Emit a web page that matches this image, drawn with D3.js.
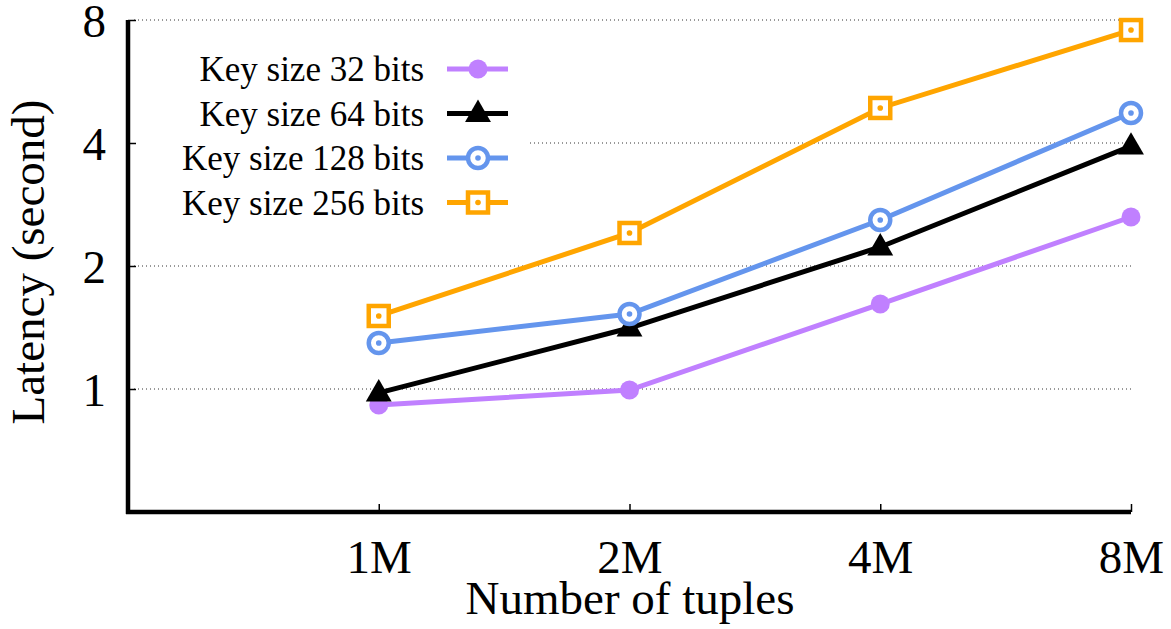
<!DOCTYPE html>
<html>
    <head>
        <meta charset="UTF-8">
        <title>Latency vs number of tuples</title>
        <style>
            body { margin: 0; background: #fff; }
            svg { display: block; background: #fff; }
            .line { fill: none; stroke-width: 5px; stroke-linejoin: miter; }
            .grid line { stroke: #333; stroke-width: 1px; stroke-dasharray: 1,3; }
        </style>
    </head>
    <body>
        <script src="https://d3js.org/d3.v7.min.js"></script>
        <script type="text/javascript">

            // chart data
            var categories = ["1M", "2M", "4M", "8M"];
            var yTicks = [1, 2, 4, 8];
            var seriesNames = ["Key size 32 bits", "Key size 64 bits", "Key size 128 bits", "Key size 256 bits"];
            var key32 = [0.914, 0.994, 1.614, 2.636];
            var key64 = [0.978, 1.41, 2.226, 3.93];
            var key128 = [1.296, 1.526, 2.592, 4.737];
            var key256 = [1.509, 2.409, 4.873, 7.56];

            var seriesValues = [key32, key64, key128, key256];
            var colors = ["#c080ff", "#000000", "#6495ed", "#ffa500"];
            var markers = ["dot", "triangle", "ring", "square"];
            var serif = "'Liberation Serif', 'Times New Roman', serif";

            var width = 1171, height = 629;
            var margin = {top: 20, right: 40, bottom: 117, left: 128};

            var svg = d3.select("body")
                .append("svg")
                .attr("width", width)
                .attr("height", height);

            // x: category positions 1..4, with an empty slot at 0
            var x = d3.scaleLinear()
                .domain([0, categories.length])
                .range([margin.left, width - margin.right]);

            var y = d3.scaleLog()
                .base(2)
                .domain([0.5, 8])
                .range([height - margin.bottom, margin.top]);

            // grid lines
            svg.append("g")
                .attr("class", "grid")
                .selectAll("line")
                .data(yTicks)
                .enter()
                .append("line")
                .attr("x1", margin.left + 6)
                .attr("x2", width - margin.right)
                .attr("y1", function(d) { return y(d); })
                .attr("y2", function(d) { return y(d); });

            // opaque legend box hides the grid behind it
            svg.append("rect")
                .attr("x", margin.left + 6)
                .attr("y", 42)
                .attr("width", 396)
                .attr("height", 185)
                .attr("fill", "#fff");

            // axes
            var xAxis = d3.axisBottom(x)
                .tickValues([1, 2, 3, 4])
                .tickFormat(function(d) { return categories[d - 1]; })
                .tickSizeInner(-8)
                .tickSizeOuter(0);

            var yAxis = d3.axisLeft(y)
                .tickValues(yTicks)
                .tickFormat(d3.format("d"))
                .tickSizeInner(-8)
                .tickSizeOuter(0);

            var gx = svg.append("g")
                .attr("transform", "translate(0," + (height - margin.bottom) + ")")
                .call(xAxis);

            var gy = svg.append("g")
                .attr("transform", "translate(" + margin.left + ",0)")
                .call(yAxis);

            [gx, gy].forEach(function(g) {
                g.select(".domain").attr("stroke", "#000").attr("stroke-width", 4.5);
                g.selectAll(".tick line").attr("stroke", "#000").attr("stroke-width", 1.5);
                g.selectAll(".tick text")
                    .style("font-family", serif)
                    .style("font-size", "47px")
                    .attr("fill", "#000");
            });
            gx.select(".domain")
                .attr("d", "M" + (margin.left - 2) + ",0H" + (width - margin.right));
            gy.select(".domain")
                .attr("d", "M0," + y(8) + "V" + (y(0.5) + 2));
            gx.selectAll(".tick text").attr("dy", null).attr("y", 61);
            gy.selectAll(".tick text").attr("x", -22).attr("dy", "0.35em");

            // axis titles
            svg.append("text")
                .attr("x", 630)
                .attr("y", 614)
                .attr("text-anchor", "middle")
                .style("font-family", serif)
                .style("font-size", "47px")
                .text("Number of tuples");

            svg.append("text")
                .attr("transform", "translate(44,262) rotate(-90)")
                .attr("text-anchor", "middle")
                .style("font-family", serif)
                .style("font-size", "47px")
                .text("Latency (second)");

            // markers
            function drawMarker(g, type, color) {
                if (type === "dot") {
                    g.append("circle").attr("r", 9.5).attr("fill", color);
                } else if (type === "triangle") {
                    g.append("path")
                        .attr("d", d3.symbol().type(d3.symbolTriangle).size(290)())
                        .attr("transform", "translate(0,1)")
                        .attr("fill", color);
                } else if (type === "ring") {
                    g.append("circle").attr("r", 10).attr("fill", "#fff")
                        .attr("stroke", color).attr("stroke-width", 4.5);
                    g.append("circle").attr("r", 2.8).attr("fill", color);
                } else if (type === "square") {
                    g.append("rect").attr("x", -10).attr("y", -10)
                        .attr("width", 20).attr("height", 20)
                        .attr("fill", "#fff").attr("stroke", color).attr("stroke-width", 4.5);
                    g.append("circle").attr("r", 2.8).attr("fill", color);
                }
            }

            var valueline = d3.line()
                .x(function(d, i) { return x(i + 1); })
                .y(function(d) { return y(d); });

            seriesValues.forEach(function(vals, s) {
                svg.append("path")
                    .attr("class", "line")
                    .attr("stroke", colors[s])
                    .attr("d", valueline(vals));
            });

            seriesValues.forEach(function(vals, s) {
                vals.forEach(function(v, i) {
                    var g = svg.append("g")
                        .attr("transform", "translate(" + x(i + 1) + "," + y(v) + ")");
                    drawMarker(g, markers[s], colors[s]);
                });
            });

            // legend
            var legend = svg.append("g");
            seriesNames.forEach(function(name, s) {
                var ly = 69 + s * 44.5;
                legend.append("text")
                    .attr("x", 424)
                    .attr("y", ly)
                    .attr("dy", "0.35em")
                    .attr("text-anchor", "end")
                    .style("font-family", serif)
                    .style("font-size", "35px")
                    .text(name);
                legend.append("line")
                    .attr("x1", 447).attr("x2", 508)
                    .attr("y1", ly).attr("y2", ly)
                    .attr("stroke", colors[s])
                    .attr("stroke-width", 5);
                var g = legend.append("g").attr("transform", "translate(478," + ly + ")");
                drawMarker(g, markers[s], colors[s]);
            });

        </script>
    </body>
</html>
